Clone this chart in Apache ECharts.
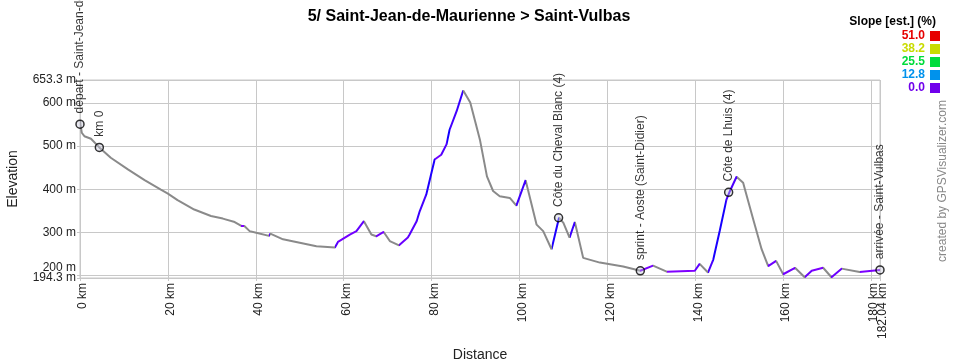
<!DOCTYPE html>
<html>
<head>
<meta charset="utf-8">
<script src="https://cdn.jsdelivr.net/npm/echarts@6/dist/echarts.min.js"></script>
<style>html,body{margin:0;padding:0;background:#fff}#c{width:960px;height:360px}</style>
</head>
<body>
<div id="c"></div>
<script>
// ---- data ----
var distanceKm = [0,0.1,0.4,1.0,2.5,4.4,7.0,10.9,14.7,18.4,20.0,22.2,26.0,29.8,32.5,32.9,35.2,36.7,37.4,38.6,40.1,43.0,43.3,46.2,50.0,53.8,58.0,58.7,61.4,62.9,64.6,66.3,67.4,69.1,70.5,72.6,74.6,75.0,76.6,77.3,78.8,80.7,82.2,83.4,84.1,85.7,87.2,88.8,90.0,91.0,92.6,94.0,95.5,97.8,99.3,101.4,103.9,105.4,107.3,109.0,110.0,111.4,112.6,114.5,118.3,123.6,127.5,130.4,133.5,139.9,141.0,142.9,144.1,145.6,147.1,147.9,149.4,150.9,151.3,153.2,155.1,156.6,158.4,160.0,162.7,164.9,166.5,169.1,171.0,173.3,177.4,182.04];
var elevationM = [560,551,531,523,517,497,473,446,421,399,390,375,353,338,332,328,324,315,315,303,299,292,297,284,276,268,265,278,295,303,326,295,291,301,280,270,288,295,326,349,388,469,480,504,538,581,629,601,554,515,430,396,384,380,362,421,318,303,261,334,322,288,324,241,230,221,211,223,209,211,227,207,237,305,376,396,429,415,400,330,261,222,234,203,218,196,211,218,196,216,208,213];
var waypointNames = ["départ - Saint-Jean-de-Maurienne","km 0","Côte du Cheval Blanc (4)","sprint - Aoste (Saint-Didier)","Côte de Lhuis (4)","arrivée - Saint-Vulbas"];
var waypointKm = [0, 4.4, 108.9, 127.5, 147.6, 182.04];
var waypointElev = [551, 497, 334, 211, 393, 213];
var yTickValues = [194.3,300,400,500,600,653.3];
var yTickValuesExtra = [200];
var xTickValues = [0,20,40,60,80,100,120,140,160,182.04];
var xTickValuesExtra = [180];
var slopeLegendValues = ["51.0","38.2","25.5","12.8","0.0"];
var slopeLegendColors = ["#e60000","#c8dc00","#00dc3c","#0092ec","#7000ec"];

// ---- colour of each segment from its slope ----
function slopeColor(s){
  if (s < 0) return '#8a8a8a';
  var h = 270 * (1 - Math.min(s,51)/51);
  return 'hsl(' + h.toFixed(0) + ',100%,50%)';
}
var pieces = [];
for (var i = 0; i < distanceKm.length - 1; i++) {
  var dx = distanceKm[i+1] - distanceKm[i];
  var dy = elevationM[i+1] - elevationM[i];
  var s = dy / (dx * 10);
  pieces.push({gte: distanceKm[i], lt: distanceKm[i+1], color: slopeColor(s)});
}
pieces[pieces.length-1].lte = distanceKm[distanceKm.length-1];
delete pieces[pieces.length-1].lt;

var lineData = distanceKm.map(function(d,i){return [d, elevationM[i]];});
var wpData = waypointKm.map(function(d,i){return {value:[d, waypointElev[i]], name: waypointNames[i]};});

var FONT = '"Liberation Sans", Arial, sans-serif';
var graphics = [
  {type:'text', x: 936, y: 22, style:{text:'Slope [est.] (%)', font:'bold 12px ' + FONT, fill:'#000', align:'right', verticalAlign:'middle'}},
  {type:'text', x: 943, y: 181, rotation: Math.PI/2, style:{text:'created by GPSVisualizer.com', font:'12px ' + FONT, fill:'#888', align:'center', verticalAlign:'middle'}}
];
slopeLegendValues.forEach(function(v,i){
  graphics.push({type:'text', x: 925, y: 36 + i*13, style:{text:v, font:'bold 12px ' + FONT, fill:slopeLegendColors[i], align:'right', verticalAlign:'middle'}});
  graphics.push({type:'rect', shape:{x:930, y:31 + i*13, width:10, height:10}, style:{fill:slopeLegendColors[i]}});
});

function xAxisDef(vals, main){
  return {
    type:'value', min:0, max:182.04, position:'bottom',
    name: main ? 'Distance' : '', nameLocation:'middle', nameGap:70,
    nameTextStyle:{fontFamily:FONT, fontSize:14, color:'#222'},
    axisLine:{show:main, onZero:false, lineStyle:{color:'#c8c8c8'}},
    axisTick:{show:true, length:3, lineStyle:{color:'#c8c8c8'}, customValues: vals},
    axisLabel:{rotate:90, margin:5, verticalAlign:'top', lineHeight:6, fontFamily:FONT, fontSize:12, color:'#222', customValues: vals,
      showMinLabel:true, showMaxLabel:true, hideOverlap:false, interval:0,
      formatter:function(v){return v + ' km';}},
    splitLine:{show:true, lineStyle:{color:'#c8c8c8', width:1}}
  };
}
function yAxisDef(vals, main){
  return {
    type:'value', min:194.3, max:653.3, position:'left',
    name: main ? 'Elevation' : '', nameLocation:'middle', nameGap:60,
    nameTextStyle:{fontFamily:FONT, fontSize:14, color:'#222'},
    axisLine:{show:main, onZero:false, lineStyle:{color:'#c8c8c8'}},
    axisTick:{show:true, length:3, lineStyle:{color:'#c8c8c8'}, customValues: vals},
    axisLabel:{margin:4, fontFamily:FONT, fontSize:12, color:'#222', customValues: vals,
      verticalAlign: main ? 'middle' : 'bottom', lineHeight: main ? 14 : 16,
      showMinLabel:true, showMaxLabel:true, hideOverlap:false, interval:0,
      formatter:function(v){return v + ' m';}},
    splitLine:{show:true, lineStyle:{color:'#c8c8c8', width:1}}
  };
}

var chart = echarts.init(document.getElementById('c'), null, {renderer:'canvas'});
chart.setOption({
  animation: false,
  title: {text:'5/ Saint-Jean-de-Maurienne > Saint-Vulbas', left: 464, top: 4, textAlign:'center',
    textStyle:{fontFamily: FONT, fontSize:16, fontWeight:'bold', color:'#000'}},
  grid: {left:80, right:80, top:80, bottom:82, show:true, borderColor:'#c8c8c8', borderWidth:1,
    outerBoundsMode:'none', containLabel:false},
  xAxis: [xAxisDef(xTickValues, true), xAxisDef(xTickValuesExtra, false)],
  yAxis: [yAxisDef(yTickValues, true), yAxisDef(yTickValuesExtra, false)],
  visualMap: {type:'piecewise', show:false, dimension:0, seriesIndex:0, pieces: pieces},
  series: [
    {type:'line', data: lineData, showSymbol:false, symbol:'none', lineStyle:{width:2}, z:2},
    {type:'scatter', data: wpData, symbol:'circle', symbolSize:8, z:3,
      itemStyle:{color:'rgba(200,200,220,0.5)', borderColor:'#000', borderWidth:1.5},
      label:{show:true, position:'top', distance:4, rotate:90, align:'left', verticalAlign:'middle',
        offset:[2,0],
        formatter:function(p){return p.name;}, fontFamily:FONT, fontSize:12, color:'#000'}}
  ],
  graphic: graphics
});
</script>
</body>
</html>
